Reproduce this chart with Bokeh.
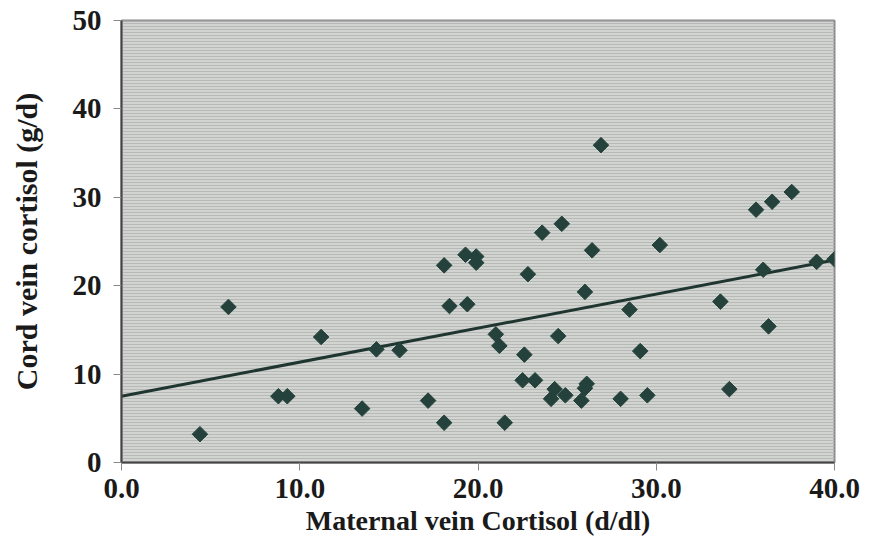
import numpy as np
from bokeh.plotting import figure
from bokeh.models import BoxAnnotation, Range1d, FixedTicker, CustomJSTickFormatter
from bokeh.embed import file_html
from bokeh.resources import INLINE

# Data
maternal = [4.4, 6.0, 8.8, 9.3, 11.2, 13.5, 14.3, 15.6, 17.2, 18.1,
            18.1, 18.4, 19.3, 19.9, 19.9, 19.4, 21.0, 21.2, 21.5, 22.5,
            22.6, 22.8, 23.2, 23.6, 24.1, 24.3, 24.5, 24.7, 24.9, 25.8,
            26.0, 26.1, 26.0, 26.4, 26.9, 28.0, 28.5, 29.1, 29.5, 30.2,
            33.6, 34.1, 35.6, 36.0, 36.3, 36.5, 37.6, 39.0, 40.0]
cord = [3.2, 17.6, 7.5, 7.5, 14.2, 6.1, 12.8, 12.7, 7.0, 4.5,
        22.3, 17.7, 23.5, 23.3, 22.6, 17.9, 14.5, 13.2, 4.5, 9.3,
        12.2, 21.3, 9.3, 26.0, 7.2, 8.3, 14.3, 27.0, 7.6, 7.0,
        19.3, 8.9, 8.4, 24.0, 35.9, 7.2, 17.3, 12.6, 7.6, 24.6,
        18.2, 8.3, 28.6, 21.8, 15.4, 29.5, 30.6, 22.7, 23.0]
fit_intercept = 7.5
fit_slope = 0.385
x_ticks = [0, 10, 20, 30, 40]
y_ticks = [0, 10, 20, 30, 40, 50]

p = figure(width=872, height=544, output_backend="svg", toolbar_location=None,
           x_range=Range1d(0, 40), y_range=Range1d(0, 50),
           min_border_left=121, min_border_right=38, min_border_top=20,
           min_border_bottom=82)

p.background_fill_color = "#d2d4d2"
p.border_fill_color = "white"
p.outline_line_color = "#8a8a8a"
p.outline_line_width = 2
p.xgrid.visible = False
p.ygrid.visible = False

p.add_layout(BoxAnnotation(fill_alpha=0, line_alpha=0,
                           hatch_pattern="horizontal_line", hatch_scale=3,
                           hatch_weight=1, hatch_color="#b6b9b6",
                           level="underlay"))

font = "Liberation Serif"
p.xaxis.ticker = FixedTicker(ticks=x_ticks)
p.yaxis.ticker = FixedTicker(ticks=y_ticks)
p.xaxis.formatter = CustomJSTickFormatter(code="return tick.toFixed(1);")
p.yaxis.formatter = CustomJSTickFormatter(code="return tick.toFixed(0);")
for ax in (p.xaxis[0], p.yaxis[0]):
    ax.axis_line_color = "#454545"
    ax.axis_line_width = 2
    ax.major_tick_line_color = "#888888"
    ax.major_tick_in = 0
    ax.major_tick_out = 8
    ax.minor_tick_line_color = None
    ax.major_label_text_font = font
    ax.major_label_text_font_style = "bold"
    ax.major_label_text_font_size = "29px"
    ax.major_label_text_color = "#1a1a1a"
    ax.axis_label_text_font = font
    ax.axis_label_text_font_style = "bold"
    ax.axis_label_text_color = "#1a1a1a"

p.xaxis.axis_label = "Maternal vein Cortisol (d/dl)"
p.yaxis.axis_label = "Cord vein cortisol (g/d)"
p.xaxis.axis_label_text_font_size = "28px"
p.yaxis.axis_label_text_font_size = "30px"
p.xaxis.major_label_standoff = 8
p.yaxis.major_label_standoff = 12
p.xaxis.axis_label_standoff = 4
p.yaxis.axis_label_standoff = 27

xs = np.array([0, 40])
p.line(xs, fit_intercept + fit_slope * xs, line_color="#1f3530", line_width=3)
p.scatter(maternal, cord, marker="square", angle=np.pi / 4, size=11,
          fill_color="#24423b", line_color="#24423b", line_width=1)

open("out.html", "w").write(file_html(p, INLINE))
